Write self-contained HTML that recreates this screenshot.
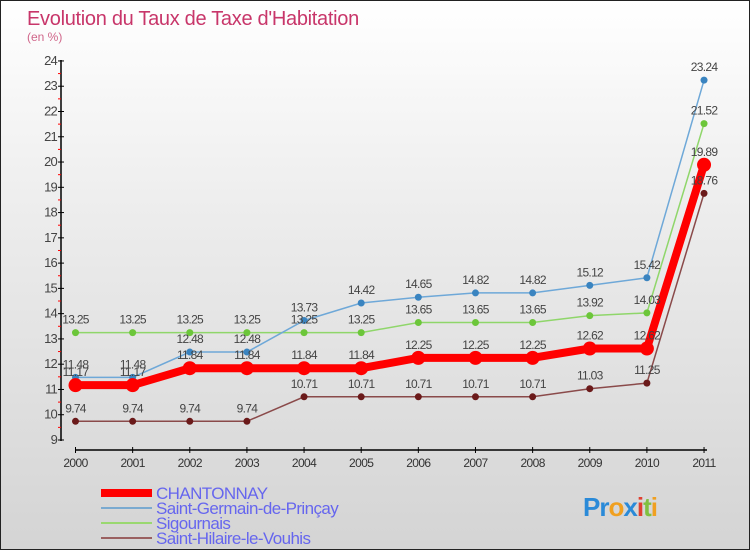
<!DOCTYPE html><html><head><style>
body{margin:0}
#c{width:748px;height:548px;border:1px solid #222;background:linear-gradient(#fff,#ececec 40%,#d4d4d4);position:relative;overflow:hidden;font-family:"Liberation Sans","DejaVu Sans",sans-serif}
</style></head><body><div id="c"><svg id="s" width="748" height="548" xmlns="http://www.w3.org/2000/svg"></svg></div>
<script>
const s=document.getElementById('s');let h='';
const X=i=>74.5+i*57.14, Y=v=>439-(v-9)*25.27;
h+='<text x="26" y="24" font-size="20" fill="#c8366a" font-family="Liberation Sans" letter-spacing="-0.3">Evolution du Taux de Taxe d\'Habitation</text>';
h+='<text x="26" y="40" font-size="12" fill="#d0668a">(en %)</text>';
h+='<line x1="60" y1="59" x2="60" y2="440" stroke="#000" stroke-width="1.5"/>';
for(let v=9;v<=24;v++){h+=`<line x1="57" y1="${Y(v)}" x2="63" y2="${Y(v)}" stroke="#000"/><text x="56" y="${Y(v)+4}" font-size="13" fill="#444" text-anchor="end" letter-spacing="-0.8">${v}</text>`;if(v<24)h+=`<line x1="57" y1="${Y(v+.5)}" x2="60" y2="${Y(v+.5)}" stroke="red"/>`;}
h+='<line x1="74" y1="449" x2="706" y2="449" stroke="#000" stroke-width="1.5"/>';
for(let i=0;i<12;i++){h+=`<line x1="${X(i)}" y1="446" x2="${X(i)}" y2="452" stroke="#000"/><text x="${X(i)}" y="466" font-size="12" fill="#333" text-anchor="middle" letter-spacing="-0.6">${2000+i}</text>`;}
const S=[
[[9.74,9.74,9.74,9.74,10.71,10.71,10.71,10.71,10.71,11.03,11.25,18.76],'#8a4a4a','#6b1a1a',1.5,3.5],
[[13.25,13.25,13.25,13.25,13.25,13.25,13.65,13.65,13.65,13.92,14.03,21.52],'#8fd66a','#6cc63a',1.5,3.5],
[[11.48,11.48,12.48,12.48,13.73,14.42,14.65,14.82,14.82,15.12,15.42,23.24],'#6ea8d8','#3a84c0',1.5,3.5],
[[11.17,11.17,11.84,11.84,11.84,11.84,12.25,12.25,12.25,12.62,12.62,19.89],'#f00','#f00',8,7]];
for(const [d,lc,pc,w,r] of S){h+=`<polyline fill="none" stroke="${lc}" stroke-width="${w}" points="${d.map((v,i)=>X(i)+','+Y(v)).join(' ')}"/>`;d.forEach((v,i)=>h+=`<circle cx="${X(i)}" cy="${Y(v)}" r="${r}" fill="${pc}"/>`);}
for(const [d] of S){d.forEach((v,i)=>h+=`<text x="${X(i)}" y="${Y(v)-9}" font-size="12" fill="#444" text-anchor="middle" letter-spacing="-0.7">${v.toFixed(2)}</text>`);}
const L=[['CHANTONNAY','#f00',8],['Saint-Germain-de-Prinçay','#7aaad0',2],['Sigournais','#9ad870',2],['Saint-Hilaire-le-Vouhis','#9a6060',2]];
L.forEach(([t,c,w],k)=>{const y=492+k*15;h+=`<line x1="100" y1="${y}" x2="151" y2="${y}" stroke="${c}" stroke-width="${w}"/><text x="155" y="${y+6}" font-size="17" fill="#6666ee" letter-spacing="-0.6">${t}</text>`;});
h+='<text x="582" y="515" font-size="26" font-weight="bold" letter-spacing="-1"><tspan fill="#2a8ad8">Pr</tspan><tspan fill="#f0a020">o</tspan><tspan fill="#2a8ad8">x</tspan><tspan fill="#e04030">i</tspan><tspan fill="#80c040">t</tspan><tspan fill="#f0a020">i</tspan></text>';
s.innerHTML=h;
</script></body></html>
